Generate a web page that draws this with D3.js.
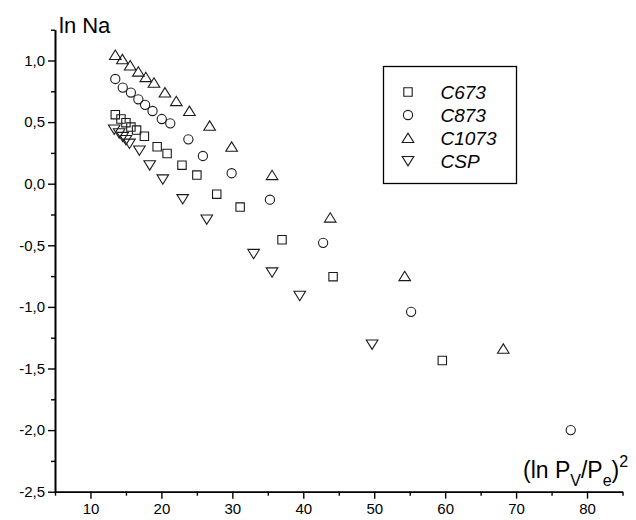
<!DOCTYPE html>
<html>
<head>
<meta charset="utf-8">
<script src="https://cdn.jsdelivr.net/npm/d3@7"></script>
<style>
  html, body { margin: 0; padding: 0; background: #fff; }
  svg { display: block; font-family: "Liberation Sans", Arial, sans-serif; }
</style>
</head>
<body>
<svg id="chart" width="636" height="520"></svg>
<script>
// Samples: x = (ln Pv/Pe)^2, y = ln Na
const c673X  = [13.5, 14.3, 15.0, 15.7, 16.5, 17.6, 19.4, 20.8, 22.9, 25.0, 27.8, 31.1, 37.0, 44.2, 59.6];
const c673Y  = [0.56, 0.525, 0.495, 0.46, 0.435, 0.385, 0.30, 0.245, 0.15, 0.07, -0.085, -0.19, -0.455, -0.755, -1.435];

const c873X  = [13.5, 14.55, 15.7, 16.75, 17.7, 18.75, 20.05, 21.25, 23.8, 25.85, 29.9, 35.3, 42.8, 55.2, 77.7];
const c873Y  = [0.85, 0.78, 0.74, 0.685, 0.64, 0.59, 0.525, 0.49, 0.36, 0.225, 0.085, -0.13, -0.48, -1.04, -2.0];

const c1073X = [13.5, 14.5, 15.6, 16.75, 17.8, 18.95, 20.5, 22.1, 23.95, 26.8, 29.9, 35.6, 43.8, 54.3, 68.2];
const c1073Y = [1.045, 1.01, 0.96, 0.91, 0.865, 0.82, 0.74, 0.67, 0.59, 0.47, 0.30, 0.07, -0.275, -0.75, -1.34];

const cspX   = [13.35, 14.05, 14.55, 15.0, 15.5, 16.9, 18.35, 20.2, 23.0, 26.4, 33.0, 35.6, 39.5, 49.7];
const cspY   = [0.44, 0.41, 0.38, 0.355, 0.325, 0.27, 0.15, 0.035, -0.125, -0.29, -0.57, -0.72, -0.91, -1.305];

const seriesNames = ["C673", "C873", "C1073", "CSP"];
const seriesShapes = ["square", "circle", "triangleUp", "triangleDown"];

const xMajorTicks = [10, 20, 30, 40, 50, 60, 70, 80];
const xMinorTicks = [5, 15, 25, 35, 45, 55, 65, 75, 85];
const yMajorTicks = [-2.5, -2.0, -1.5, -1.0, -0.5, 0.0, 0.5, 1.0];
const yMinorTicks = [-2.25, -1.75, -1.25, -0.75, -0.25, 0.25, 0.75, 1.25];

const series = [
  { xs: c673X,  ys: c673Y },
  { xs: c873X,  ys: c873Y },
  { xs: c1073X, ys: c1073Y },
  { xs: cspX,   ys: cspY }
].map((s, i) => ({
  name: seriesNames[i],
  shape: seriesShapes[i],
  points: s.xs.map((x, j) => ({ x, y: s.ys[j] }))
}));

const svg = d3.select("#chart");

const x = d3.scaleLinear().domain([5, 85]).range([55, 622.5]);
const y = d3.scaleLinear().domain([-2.5, 1.25]).range([491.7, 29.7]);

const loc = d3.formatLocale({ decimal: ",", thousands: ".", grouping: [3], currency: ["", ""], minus: "-" });
const fmtY = loc.format(".1f");

// marker outlines centred on (0,0)
function markerPath(shape) {
  switch (shape) {
    case "square": return "M-4.2,-4.2H4.2V4.2H-4.2Z";
    case "circle": return d3.arc()({ innerRadius: 0, outerRadius: 4.6, startAngle: 0, endAngle: 2 * Math.PI });
    case "triangleUp": return "M0,-4.9L5.8,4.5H-5.8Z";
    case "triangleDown": return "M0,4.9L5.8,-4.5H-5.8Z";
  }
}

// axes
const axisColor = "#000";
function styleAxis(g) {
  g.selectAll("path.domain").attr("stroke", axisColor).attr("stroke-width", 1.6);
  g.selectAll(".tick line").attr("stroke", axisColor).attr("stroke-width", 1.4);
  g.selectAll(".tick text").attr("fill", "#000").style("font-size", "15px")
    .style("font-family", '"Liberation Sans", Arial, sans-serif');
}

const xAxisMinor = svg.append("g").attr("transform", `translate(0,${y(-2.5)})`)
  .call(d3.axisBottom(x).tickValues(xMinorTicks).tickSize(4).tickSizeOuter(0).tickFormat(""));
styleAxis(xAxisMinor);
const xAxis = svg.append("g").attr("transform", `translate(0,${y(-2.5)})`)
  .call(d3.axisBottom(x).tickValues(xMajorTicks).tickSize(7).tickSizeOuter(0).tickPadding(5).tickFormat(d3.format("d")));
styleAxis(xAxis);

const yAxisMinor = svg.append("g").attr("transform", `translate(${x(5)},0)`)
  .call(d3.axisLeft(y).tickValues(yMinorTicks).tickSize(4).tickSizeOuter(0).tickFormat(""));
styleAxis(yAxisMinor);
const yAxis = svg.append("g").attr("transform", `translate(${x(5)},0)`)
  .call(d3.axisLeft(y).tickValues(yMajorTicks).tickSize(7).tickSizeOuter(0).tickPadding(3).tickFormat(fmtY));
styleAxis(yAxis);

// axis titles
svg.append("text").attr("x", 59).attr("y", 33)
  .style("font-size", "22px").attr("fill", "#000").text("ln Na");

const xt = svg.append("text").attr("x", 523).attr("y", 478)
  .style("font-size", "23px").attr("fill", "#000");
xt.append("tspan").text("(ln P");
xt.append("tspan").attr("dy", 8).style("font-size", "16px").text("V");
xt.append("tspan").attr("dy", -8).text("/P");
xt.append("tspan").attr("dy", 8).style("font-size", "16px").text("e");
xt.append("tspan").attr("dy", -8).text(")");
xt.append("tspan").attr("dy", -11).style("font-size", "16px").text("2");

// data markers
const plot = svg.append("g");
series.forEach(s => {
  plot.append("g").selectAll("path").data(s.points).join("path")
    .attr("d", markerPath(s.shape))
    .attr("transform", d => `translate(${x(d.x)},${y(d.y)})`)
    .attr("fill", "none").attr("stroke", "#1a1a1a").attr("stroke-width", 1.1);
});

// legend
const legend = svg.append("g").attr("transform", "translate(383.5,66.5)");
legend.append("rect").attr("width", 133).attr("height", 117)
  .attr("fill", "#fff").attr("stroke", "#000").attr("stroke-width", 1.3);
series.forEach((s, i) => {
  const row = legend.append("g").attr("transform", `translate(0,${25.5 + i * 23})`);
  row.append("path").attr("d", markerPath(s.shape)).attr("transform", "translate(24.5,0)")
    .attr("fill", "none").attr("stroke", "#1a1a1a").attr("stroke-width", 1.1);
  row.append("text").attr("x", 57).attr("y", 7)
    .style("font-size", "19px").style("font-style", "italic").attr("fill", "#000").text(s.name);
});
</script>
</body>
</html>
